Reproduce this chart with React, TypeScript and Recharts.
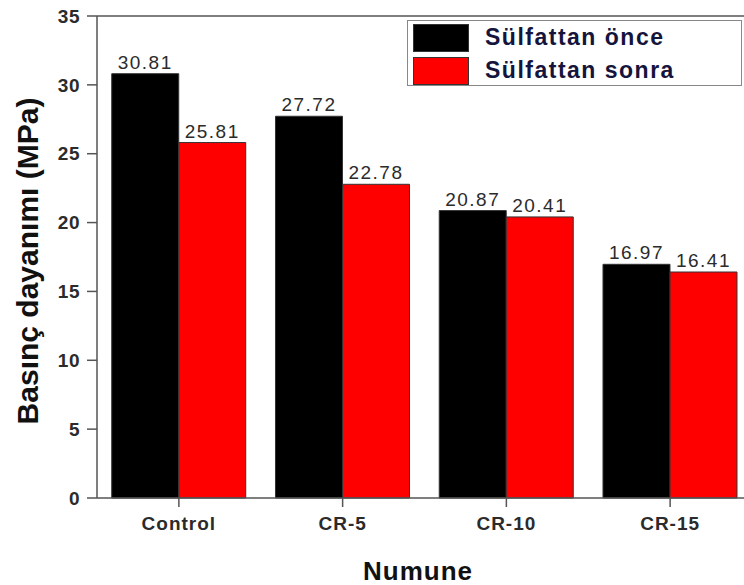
import { BarChart, Bar, XAxis, YAxis, LabelList, ReferenceLine } from "recharts"

const categories = ["Control", "CR-5", "CR-10", "CR-15"]
const before = [30.81, 27.72, 20.87, 16.97]
const after = [25.81, 22.78, 20.41, 16.41]
const yTicks = [0, 5, 10, 15, 20, 25, 30, 35]
const yMinorTicks = [2.5, 7.5, 12.5, 17.5, 22.5, 27.5, 32.5]
const xBetweenTicks = [1, 2, 3]
const seriesNames = ["Sülfattan önce", "Sülfattan sonra"]

const data = categories.map((name, i) => ({ name, before: before[i], after: after[i] }))

const font = "Arial, 'Liberation Sans', sans-serif"
const axisColor = "#555"
const textColor = "#2b2b2b"

function YTitle() {
  return (
    <text
      transform="translate(38,261) rotate(-90)"
      textAnchor="middle"
      fontFamily={font}
      fontWeight="bold"
      fontSize={30}
      fill="#111"
    >
      Basınç dayanımı (MPa)
    </text>
  )
}

function XTitle() {
  return (
    <text x={418} y={580} textAnchor="middle" fontFamily={font} fontWeight="bold" fontSize={26} letterSpacing={1} fill="#111">
      Numune
    </text>
  )
}

function LegendBox() {
  const colors = ["#000000", "#ff0000"]
  return (
    <div
      style={{
        position: "absolute",
        left: 407,
        top: 20,
        width: 333,
        height: 64,
        border: "1.5px solid #888",
        background: "#fff",
        fontFamily: font,
      }}
    >
      {seriesNames.map((n, i) => (
        <div key={n} style={{ position: "absolute", left: 5, top: 2 + i * 33, height: 29, display: "flex", alignItems: "center" }}>
          <div style={{ width: 56, height: 28, background: colors[i], border: "1px solid #333", boxSizing: "border-box" }} />
          <span style={{ marginLeft: 16, fontSize: 23, fontWeight: "bold", letterSpacing: 1.5, color: "#14143c" }}>{n}</span>
        </div>
      ))}
    </div>
  )
}

export default function App() {
  return (
    <div style={{ position: "absolute", left: 0, top: 0, width: 744, height: 585, overflow: "hidden", background: "#fff" }}>
      <BarChart
        width={752}
        height={585}
        data={data}
        margin={{ top: 16, right: 0, left: 0, bottom: 0 }}
        barCategoryGap="9%"
        barGap={0}
      >
        <XAxis
          xAxisId="minor"
          type="number"
          domain={[0, 4]}
          ticks={xBetweenTicks}
          height={0}
          tickSize={7}
          axisLine={false}
          tickLine={{ stroke: axisColor, strokeWidth: 1.5 }}
          tickFormatter={() => ""}
        />
        <XAxis
          dataKey="name"
          height={87}
          tickSize={9}
          tickMargin={10}
          axisLine={{ stroke: axisColor, strokeWidth: 1.5 }}
          tickLine={{ stroke: axisColor, strokeWidth: 1.5 }}
          tick={{ fontFamily: font, fontSize: 19, fontWeight: "bold", fill: textColor, letterSpacing: 1 }}
        />
        <YAxis
          yAxisId="minor"
          width={0}
          domain={[0, 35]}
          ticks={yMinorTicks}
          tickSize={4}
          axisLine={false}
          tickLine={{ stroke: axisColor, strokeWidth: 1.5 }}
          tickFormatter={() => ""}
        />
        <YAxis
          width={97}
          domain={[0, 35]}
          ticks={yTicks}
          tickSize={10}
          tickMargin={7}
          axisLine={{ stroke: axisColor, strokeWidth: 1.5 }}
          tickLine={{ stroke: axisColor, strokeWidth: 1.5 }}
          tick={{ fontFamily: font, fontSize: 19, fontWeight: "bold", fill: textColor, letterSpacing: 0.5 }}
        />
        <ReferenceLine y={35} stroke={axisColor} strokeWidth={1.5} />
        <Bar dataKey="before" name={seriesNames[0]} fill="#000000" stroke="#333" strokeWidth={1} isAnimationActive={false}>
          <LabelList dataKey="before" position="top" offset={5} fontFamily={font} fontSize={19} letterSpacing={1.5} fill={textColor} />
        </Bar>
        <Bar dataKey="after" name={seriesNames[1]} fill="#ff0000" stroke="#333" strokeWidth={1} isAnimationActive={false}>
          <LabelList dataKey="after" position="top" offset={5} fontFamily={font} fontSize={19} letterSpacing={1.5} fill={textColor} />
        </Bar>
        <YTitle />
        <XTitle />
      </BarChart>
      <LegendBox />
    </div>
  )
}
